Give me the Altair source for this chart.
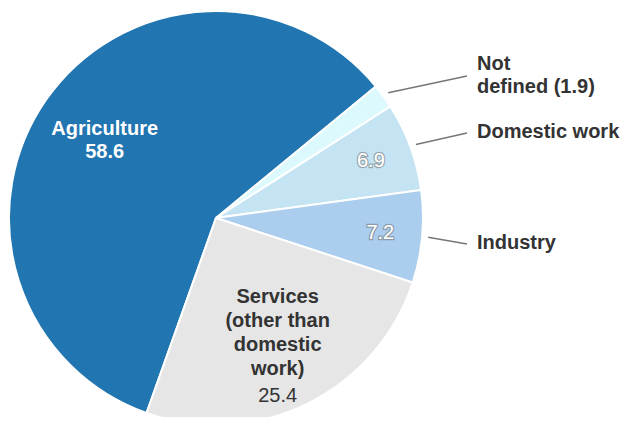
import altair as alt
import pandas as pd
import numpy as np

# ---- data ----
categories = ["Agriculture", "Not defined", "Domestic work", "Industry",
              "Services (other than domestic work)"]
values = [58.6, 1.9, 6.9, 7.2, 25.4]
inner_bold_white = ["Agriculture\n58.6", "", "", "", ""]
inner_values = ["", "", "6.9", "7.2", ""]
services_title = ["", "", "", "", "Services\n(other than\ndomestic\nwork)"]
services_value = ["", "", "", "", "25.4"]
outer_labels = ["", "Not\ndefined (1.9)", "Domestic work", "Industry", ""]
colors = ["#2175b0", "#dcf9fd", "#c4e4f3", "#abcdee", "#e6e6e6"]

# ---- layout constants ----
CX, CY, R = 208, 210, 207
START = np.deg2rad(199.6)
FONT = "Liberation Sans"
LABEL_X = 469
LABEL_Y = {"Not defined": 55.5, "Domestic work": 123.5, "Industry": 235}
LINE_Y = {"Not defined": 68, "Domestic work": 125, "Industry": 236}
LINE_END_X = 459
LINE_R = 213

df = pd.DataFrame({
    "category": categories,
    "value": values,
    "order": list(range(len(values))),
    "t_white": inner_bold_white,
    "t_val": inner_values,
    "t_serv": services_title,
    "t_serv_v": services_value,
})

theta_scale = alt.Scale(range=[START, START + 2 * np.pi])
base = alt.Chart(df).encode(
    theta=alt.Theta("value:Q", stack=True, scale=theta_scale),
    order=alt.Order("order:Q"),
    x=alt.value(CX),
    y=alt.value(CY),
)

pie = base.mark_arc(outerRadius=R, stroke="white", strokeWidth=2).encode(
    color=alt.Color("category:N", scale=alt.Scale(domain=categories, range=colors), legend=None)
)

t_white = base.mark_text(radius=136, dy=-11, font=FONT, fontSize=20, fontWeight="bold",
                         color="white", lineHeight=23, lineBreak="\n", align="center",
                         baseline="middle").encode(text="t_white:N")
t_val_halo = base.mark_text(radius=165, font=FONT, fontSize=20, fill="white",
                            stroke="#6f6f6f", strokeWidth=2.5, strokeOpacity=0.55,
                            align="center", baseline="middle").encode(text="t_val:N")
t_val = base.mark_text(radius=165, font=FONT, fontSize=20, color="white",
                       align="center", baseline="middle").encode(text="t_val:N")
t_serv = base.mark_text(radius=140, dy=-46.5, font=FONT, fontSize=20, fontWeight="bold",
                        color="#333333", lineHeight=24, lineBreak="\n", align="center",
                        baseline="middle").encode(text="t_serv:N")
t_serv_v = base.mark_text(radius=140, dy=52, font=FONT, fontSize=20,
                          color="#333333", align="center",
                          baseline="middle").encode(text="t_serv_v:N")

# ---- outer labels with connector lines (computed from the slice angles) ----
vals = np.array(values)
cum = np.cumsum(vals)
mid = START + (cum - vals / 2) / vals.sum() * 2 * np.pi
ext_rows = []
for i, cat in enumerate(categories):
    if outer_labels[i]:
        ext_rows.append({
            "label": outer_labels[i],
            "x1": CX + LINE_R * np.sin(mid[i]),
            "y1": CY - LINE_R * np.cos(mid[i]),
            "x2": LINE_END_X,
            "y2": LINE_Y[cat],
            "lx": LABEL_X,
            "ly": LABEL_Y[cat],
        })
ext = pd.DataFrame(ext_rows)

lines = alt.Chart(ext).mark_rule(color="#777777", strokeWidth=1.5).encode(
    x=alt.X("x1:Q", scale=None), y=alt.Y("y1:Q", scale=None),
    x2="x2:Q", y2="y2:Q",
)
outer = alt.Chart(ext).mark_text(font=FONT, fontSize=20, fontWeight="bold",
                                 color="#333333", align="left", baseline="middle",
                                 lineHeight=23, lineBreak="\n").encode(
    x=alt.X("lx:Q", scale=None), y=alt.Y("ly:Q", scale=None), text="label:N"
)

chart = alt.layer(pie, t_white, t_val_halo, t_val, t_serv, t_serv_v, lines, outer).properties(
    width=613, height=409,
    autosize=alt.AutoSizeParams(type="none"),
    padding=0,
).configure_view(stroke=None)

chart.save("out.html", embed_options={"renderer": "svg", "actions": False})
